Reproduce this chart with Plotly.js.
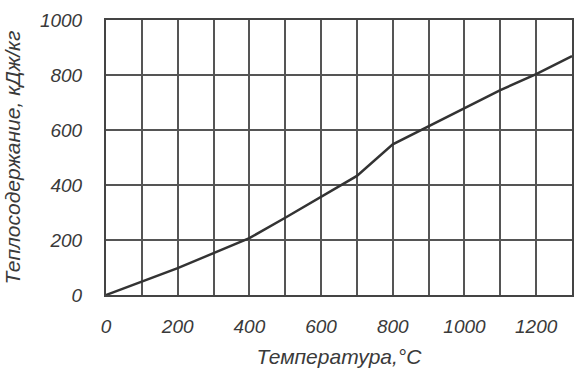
<!DOCTYPE html>
<html>
<head>
<meta charset="utf-8">
<script src="https://cdn.plot.ly/plotly-3.0.1.min.js"></script>
<style>html,body{margin:0;padding:0;background:#fff;}#chart{width:577px;height:377px;}</style>
</head>
<body>
<div id="chart"></div>
<script>
const temperature = [0, 100, 200, 300, 400, 500, 600, 700, 800, 900, 1000, 1100, 1200, 1300];
const heatContent = [0, 48, 98, 152, 207, 281, 357, 433, 548, 614, 678, 745, 803, 869];
const xTickVals = [0, 200, 400, 600, 800, 1000, 1200];
const yTickVals = [0, 200, 400, 600, 800, 1000];
const xTitle = 'Температура,°C';
const yTitle = 'Теплосодержание, кДж/кг';

const tickFont = {family: 'Liberation Sans, Arial, sans-serif', size: 19, color: '#3a3a3a', style: 'italic'};
const titleFont = {family: 'Liberation Sans, Arial, sans-serif', size: 21, color: '#3a3a3a', style: 'italic'};

Plotly.newPlot('chart', [{
  x: temperature,
  y: heatContent,
  type: 'scatter',
  mode: 'lines',
  line: {color: '#333', width: 2.5},
  hoverinfo: 'skip'
}], {
  width: 577, height: 377,
  margin: {l: 106, r: 5, t: 20, b: 82},
  paper_bgcolor: '#fff', plot_bgcolor: '#fff',
  showlegend: false,
  xaxis: {
    range: [0, 1300], tickvals: xTickVals, ticks: '', ticklabelstandoff: 13,
    showgrid: true, gridcolor: '#555', gridwidth: 2,
    minor: {dtick: 100, tick0: 0, showgrid: true, gridcolor: '#555', gridwidth: 2},
    showline: true, mirror: true, linecolor: '#444', linewidth: 2,
    zeroline: false, tickfont: tickFont,
    title: {text: xTitle, font: titleFont, standoff: 14}
  },
  yaxis: {
    range: [0, 1000], tickvals: yTickVals, ticks: '', ticklabelstandoff: 18,
    showgrid: true, gridcolor: '#555', gridwidth: 2,
    showline: true, mirror: true, linecolor: '#444', linewidth: 2,
    zeroline: false, tickfont: tickFont,
    title: {text: yTitle, font: titleFont, standoff: 14}
  }
}, {displayModeBar: false, staticPlot: true});
</script>
</body>
</html>
